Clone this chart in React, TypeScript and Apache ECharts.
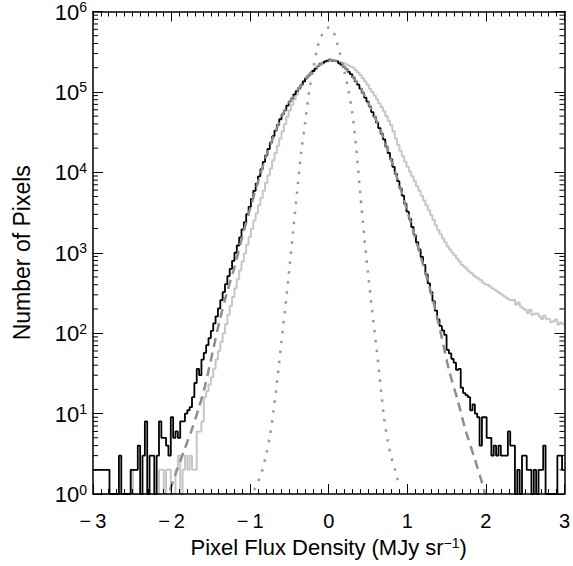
import React, { useEffect, useRef } from "react";
import * as echarts from "echarts";

// Histogram binning (bin left edges start at BIN_START, width BIN_WIDTH)
const BIN_START = -3;
const BIN_WIDTH = 0.03;

// Black histogram: pixel counts per bin
const blackCounts = [
  2, 2, 2, 2, 2, 2, 2, 1, 1, 1,
  1, 3, 1, 1, 1, 1, 2, 2, 2, 4,
  1, 3, 8, 1, 3, 3, 1, 3, 8, 5,
  5, 4, 3, 9, 5, 6, 5, 8, 8, 10,
  11, 12, 16, 24, 36, 30, 47, 57, 71, 87,
  107, 132, 162, 203, 257, 324, 407, 513, 631, 794,
  1000, 1230, 1550, 1950, 2400, 3020, 3720, 4680, 5890, 7240,
  8910, 10960, 13490, 16220, 19500, 23440, 28180, 33100, 38900, 45700,
  52500, 58900, 67600, 75900, 83200, 93300, 102300, 112200, 123000, 134900,
  147900, 158500, 169800, 182000, 195000, 208900, 223900, 229100, 239900, 245500,
  251200, 245500, 242700, 239900, 226500, 216300, 204200, 192800, 177800, 166000,
  151400, 134900, 123000, 109600, 97700, 85100, 75900, 66100, 56200, 49000,
  41700, 35500, 30200, 25700, 20900, 17400, 14500, 11700, 9550, 7760,
  6310, 5130, 4070, 3240, 2630, 2090, 1660, 1350, 1100, 890,
  708, 537, 417, 324, 251, 191, 148, 123, 108, 95,
  62, 56, 48, 43, 35, 36, 21, 18, 17, 16,
  11, 13, 10, 9, 4, 9, 9, 5, 5, 3,
  4, 3, 4, 3, 3, 3, 6, 4, 4, 1,
  2, 1, 3, 3, 2, 2, 1, 2, 1, 2,
  2, 4, 1, 1, 1, 1, 1, 3, 3, 2,
];

// Light grey histogram: pixel counts per bin
const grayCounts = [
  1, 1, 1, 1, 1, 1, 1, 1, 1, 1,
  1, 1, 1, 1, 1, 1, 2, 1, 1, 1,
  1, 1, 1, 1, 1, 1, 1, 1, 2, 2,
  1, 2, 2, 1, 1, 2, 3, 1, 2, 3,
  2, 3, 2, 2, 6, 6, 8, 16, 19, 23,
  28, 36, 47, 60, 78, 100, 129, 170, 219, 282,
  363, 468, 603, 776, 977, 1260, 1580, 1990, 2510, 3090,
  3890, 4790, 5890, 7410, 9120, 11200, 14100, 17400, 21400, 26300,
  32400, 39800, 49000, 58900, 69200, 81300, 93300, 107200, 120200, 134900,
  147900, 162200, 175800, 186200, 197200, 206500, 216300, 223900, 231700, 237100,
  242700, 245500, 245500, 242700, 237100, 231700, 226500, 221300, 213800, 206500,
  199500, 186200, 173800, 162200, 147900, 134900, 123000, 109600, 100000, 90200,
  81300, 72400, 64600, 57500, 50100, 43700, 38900, 32400, 26300, 21900,
  18600, 15800, 13500, 11750, 10230, 8910, 7760, 6760, 5890, 5130,
  4470, 3890, 3390, 2950, 2570, 2190, 1910, 1700, 1510, 1350,
  1200, 1100, 1000, 933, 851, 776, 708, 676, 631, 589,
  562, 525, 501, 479, 457, 427, 407, 398, 380, 363,
  347, 331, 316, 302, 288, 275, 263, 257, 262, 228,
  240, 214, 204, 195, 178, 196, 170, 174, 176, 162,
  150, 166, 151, 148, 138, 141, 148, 128, 136, 129,
];

// Dashed model curve
const modelX = [
  -2.02, -1.96, -1.83, -1.75, -1.66, -1.58, -1.47, -1.39, -1.3, -1.2,
  -1.1, -1.0, -0.9, -0.8, -0.7, -0.6, -0.5, -0.4, -0.3, -0.2,
  -0.1, 0.0, 0.1, 0.2, 0.3, 0.4, 0.5, 0.6, 0.7, 0.8,
  0.9, 1.0, 1.1, 1.2, 1.33, 1.426, 1.53, 1.64, 1.74, 1.85,
  1.955, 1.99,
];
const modelCounts = [
  1.12, 1.66, 3.7, 6.0, 11.2, 20.9, 63, 141, 309, 661,
  1580, 3550, 7590, 15500, 28200, 49000, 74100, 104700, 141000, 182000,
  224000, 251200, 240000, 204200, 158000, 112200, 74100, 45700, 26300, 13800,
  6900, 3310, 1550, 724, 251, 100, 35, 14.8, 6.3, 2.9,
  1.35, 1.0,
];

// Dotted narrow curve
const narrowX = [
  -0.95, -0.9, -0.85, -0.8, -0.75, -0.7, -0.65, -0.6, -0.55, -0.5,
  -0.45, -0.4, -0.35, -0.3, -0.25, -0.2, -0.15, -0.1, -0.05, 0.0,
  0.05, 0.1, 0.15, 0.2, 0.25, 0.3, 0.35, 0.4, 0.45, 0.5,
  0.55, 0.6, 0.65, 0.7, 0.75, 0.8, 0.85, 0.9,
];
const narrowCounts = [
  1.12, 1.41, 1.9, 3.0, 5.2, 11.2, 28.8, 81, 224, 646,
  2000, 6030, 17800, 41700, 100000, 186000, 339000, 479000, 589000, 631000,
  589000, 427000, 282000, 178000, 105000, 55000, 20000, 5600, 1660, 562,
  200, 76, 28, 9.5, 4.6, 2.8, 1.9, 1.2,
];

const X_MIN = -3;
const X_MAX = 3;
const Y_MIN = 1;
const Y_MAX = 1e6;
const Y_MINOR_MULT = [2, 3, 4, 5, 6, 7, 8, 9];
const Y_DECADES = [0, 1, 2, 3, 4, 5];

const FONT = "'Liberation Sans', Arial, Helvetica, sans-serif";

function histPoints(counts: number[]) {
  const pts: number[][] = counts.map((c, i) => [
    Math.round((BIN_START + i * BIN_WIDTH) * 1000) / 1000,
    c,
  ]);
  pts.push([
    Math.round((BIN_START + counts.length * BIN_WIDTH) * 1000) / 1000,
    counts[counts.length - 1],
  ]);
  return pts;
}

export default function App() {
  const ref = useRef<HTMLDivElement>(null);

  useEffect(() => {
    if (!ref.current) return;
    const chart = echarts.init(ref.current, undefined, { renderer: "svg" });

    const minorTickData: number[][] = [];
    Y_DECADES.forEach((d) =>
      Y_MINOR_MULT.forEach((m) => minorTickData.push([X_MIN, m * Math.pow(10, d)]))
    );

    const tickStyle = { color: "#000", width: 1 };

    const xAxisCommon = {
      type: "value" as const,
      min: X_MIN,
      max: X_MAX,
      interval: 1,
      z: 10,
      axisLine: { show: true, onZero: false, lineStyle: { color: "#000", width: 1.5 } },
      axisTick: { show: true, inside: true, length: 10, lineStyle: tickStyle },
      minorTick: { show: true, splitNumber: 10, length: 5, lineStyle: tickStyle },
      splitLine: { show: false },
      minorSplitLine: { show: false },
    };

    const yAxisCommon = {
      type: "log" as const,
      logBase: 10,
      min: Y_MIN,
      max: Y_MAX,
      splitNumber: 6,
      z: 10,
      axisLine: { show: true, onZero: false, lineStyle: { color: "#000", width: 1.5 } },
      axisTick: { show: true, inside: true, length: 10, lineStyle: tickStyle },
      minorTick: { show: false },
      splitLine: { show: false },
    };

    chart.setOption({
      animation: false,
      backgroundColor: "#fff",
      grid: { left: 93, right: 7, top: 11, bottom: 72, containLabel: false },
      xAxis: [
        {
          ...xAxisCommon,
          position: "bottom",
          axisLabel: {
            show: true,
            margin: 17,
            color: "#000",
            fontSize: 20,
            fontFamily: FONT,
            formatter: (v: number) => String(v).replace("-", "\u2212\u2009"),
          },
          name: "{a|Pixel Flux Density (MJy sr}{s|\u22121}{a|)}",
          nameLocation: "middle",
          nameGap: 35,
          nameTextStyle: {
            color: "#000",
            fontFamily: FONT,
            rich: {
              a: { fontSize: 22, fontFamily: FONT, color: "#000", verticalAlign: "bottom" },
              s: {
                fontSize: 14,
                fontFamily: FONT,
                color: "#000",
                verticalAlign: "bottom",
                padding: [0, 0, 9, 0],
              },
            },
          },
        },
        {
          ...xAxisCommon,
          position: "top",
          axisLabel: { show: false },
        },
      ],
      yAxis: [
        {
          ...yAxisCommon,
          position: "left",
          axisLabel: {
            show: true,
            margin: 6,
            color: "#000",
            formatter: (v: number) => `{b|10}{s|${Math.round(Math.log10(v))}}`,
            rich: {
              b: { fontSize: 22, fontFamily: FONT, color: "#000", verticalAlign: "bottom" },
              s: {
                fontSize: 14,
                fontFamily: FONT,
                color: "#000",
                verticalAlign: "bottom",
                padding: [0, 0, 9, 0],
              },
            },
          },
          name: "Number of Pixels",
          nameLocation: "middle",
          nameGap: 60,
          nameTextStyle: { color: "#000", fontSize: 23, fontFamily: FONT },
        },
        {
          ...yAxisCommon,
          position: "right",
          axisLabel: { show: false },
        },
      ],
      series: [
        {
          type: "line",
          name: "grey histogram",
          data: histPoints(grayCounts),
          step: "end",
          showSymbol: false,
          symbol: "none",
          clip: true,
          z: 2,
          lineStyle: { color: "#c6c6c6", width: 2 },
        },
        {
          type: "line",
          name: "black histogram",
          data: histPoints(blackCounts),
          step: "end",
          showSymbol: false,
          symbol: "none",
          clip: true,
          z: 3,
          lineStyle: { color: "#000", width: 1.8 },
        },
        {
          type: "line",
          name: "model",
          data: modelX.map((x, i) => [x, modelCounts[i]]),
          smooth: 0.3,
          showSymbol: false,
          symbol: "none",
          clip: true,
          z: 4,
          lineStyle: { color: "#8e8e8e", width: 2.5, type: [9, 6] },
        },
        {
          type: "line",
          name: "narrow",
          data: narrowX.map((x, i) => [x, narrowCounts[i]]),
          smooth: 0.3,
          showSymbol: false,
          symbol: "none",
          clip: true,
          z: 5,
          lineStyle: { color: "#999", width: 2.5, type: [2.5, 7.5] },
        },
        {
          type: "custom",
          name: "y minor ticks",
          data: minorTickData,
          encode: { x: 0, y: 1 },
          z: 11,
          clip: false,
          silent: true,
          renderItem: (_params: any, api: any) => {
            const v = api.value(1);
            const pL = api.coord([X_MIN, v]);
            const pR = api.coord([X_MAX, v]);
            return {
              type: "group",
              children: [
                {
                  type: "line",
                  shape: { x1: pL[0], y1: pL[1], x2: pL[0] + 5, y2: pL[1] },
                  style: { stroke: "#000", lineWidth: 1 },
                },
                {
                  type: "line",
                  shape: { x1: pR[0], y1: pR[1], x2: pR[0] - 5, y2: pR[1] },
                  style: { stroke: "#000", lineWidth: 1 },
                },
              ],
            };
          },
        },
      ],
    });

    return () => {
      chart.dispose();
    };
  }, []);

  return (
    <div
      ref={ref}
      style={{
        position: "fixed",
        left: 0,
        top: 0,
        width: 573,
        height: 566,
        background: "#fff",
      }}
    />
  );
}
